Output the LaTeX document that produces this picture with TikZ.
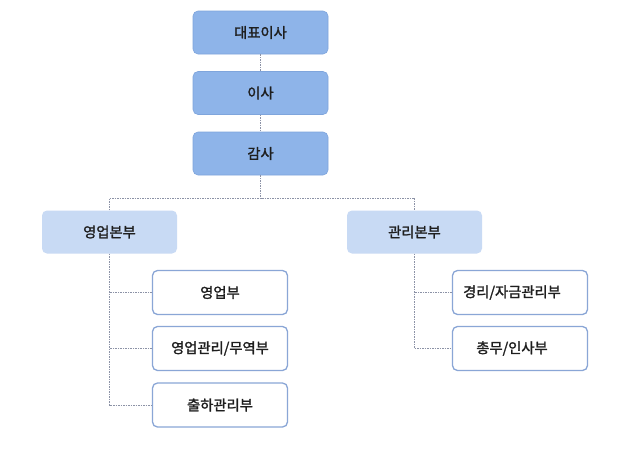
\documentclass[tikz,border=0pt]{standalone}
\usepackage{fontspec}
\newfontfamily\kr[FakeBold=1.6]{Noto Sans CJK KR}
\definecolor{topfill}{HTML}{8EB4E9}
\definecolor{topdraw}{HTML}{7FA5DC}
\definecolor{midfill}{HTML}{C8DAF4}
\definecolor{subdraw}{HTML}{8AA6D6}
\definecolor{linec}{HTML}{8C92A6}
\definecolor{txt}{HTML}{1E1E1E}
\begin{document}
\begin{tikzpicture}[x=1pt,y=-1pt,
  box/.style={rounded corners=5pt, minimum width=135pt, minimum height=43pt, inner sep=0pt, font=\kr\fontsize{14.3}{16}\selectfont, text=txt},
  topbox/.style={box, fill=topfill, draw=topdraw, line width=0.6pt},
  midbox/.style={box, fill=midfill, draw=none},
  subbox/.style={box, fill=white, draw=subdraw, line width=1.3pt, minimum width=135pt, minimum height=44pt},
  conn/.style={draw=linec, line width=0.6pt, dash pattern=on 1.5pt off 1pt}]
\useasboundingbox (0,0) rectangle (629,474);
\fill[white] (0,0) rectangle (629,474);
\node[topbox] (ceo) at (260.5,32.5) {대표이사};
\node[topbox] (dir) at (260.5,93) {이사};
\node[topbox] (aud) at (260.5,153.5) {감사};
\node[midbox] (sales) at (109.5,232) {영업본부};
\node[midbox] (admin) at (414.5,232) {관리본부};
\node[subbox] (s1) at (220,292.5) {영업부};
\node[subbox] (s2) at (220,348.5) {영업관리/무역부};
\node[subbox] (s3) at (220,405) {출하관리부};
\node[subbox] (a1) at (520,292.5) {\hspace*{-16pt}경리/자금관리부};
\node[subbox] (a2) at (520,348.5) {\hspace*{-16pt}총무/인사부};
\coordinate (hub) at (260.5,198);
\draw[conn] (ceo.south) -- (dir.north);
\draw[conn] (dir.south) -- (aud.north);
\draw[conn] (aud.south) -- (hub);
\draw[conn] (sales.north) |- (hub) -| (admin.north);
\draw[conn] (sales.south) |- (s3.west);
\draw[conn] (s1.west) -- (s1.west -| sales.south);
\draw[conn] (s2.west) -- (s2.west -| sales.south);
\draw[conn] (admin.south) |- (a2.west);
\draw[conn] (a1.west) -- (a1.west -| admin.south);
\end{tikzpicture}
\end{document}
